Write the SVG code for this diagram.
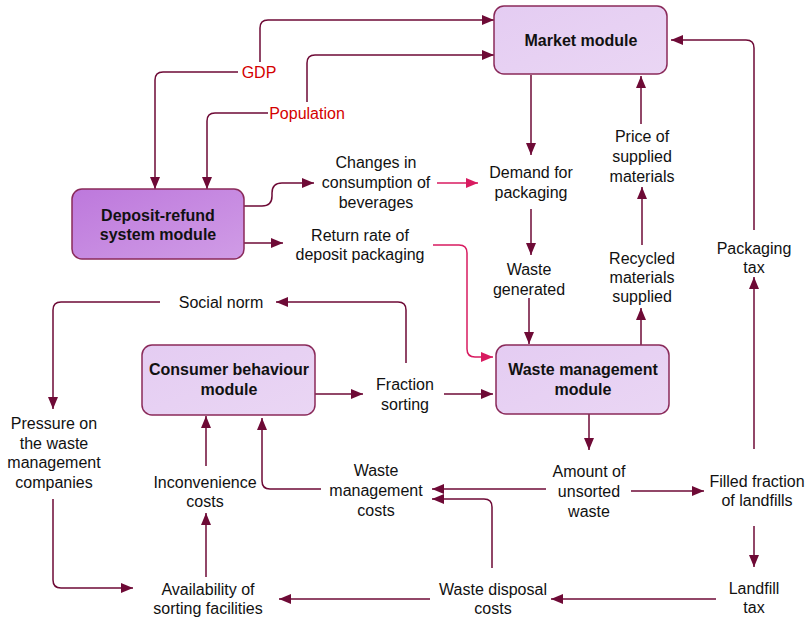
<svg xmlns="http://www.w3.org/2000/svg" width="810" height="618" viewBox="0 0 810 618">
<defs>
<marker id="ah" markerUnits="userSpaceOnUse" markerWidth="13" markerHeight="11" refX="12" refY="5" orient="auto"><path d="M0,0 L12,5 L0,10 z" fill="#6e0a36"/></marker>
<marker id="ahp" markerUnits="userSpaceOnUse" markerWidth="13" markerHeight="11" refX="12" refY="5" orient="auto"><path d="M0,0 L12,5 L0,10 z" fill="#d81b60"/></marker>
<linearGradient id="gl" x1="0" y1="0" x2="1" y2="1"><stop offset="0" stop-color="#e4ccf2"/><stop offset="1" stop-color="#ead6f4"/></linearGradient>
<linearGradient id="gd" x1="0" y1="0" x2="1" y2="1"><stop offset="0" stop-color="#bd78dc"/><stop offset="1" stop-color="#d09ce6"/></linearGradient>
</defs>
<style>
text{font-family:"Liberation Sans",Arial,sans-serif;font-size:16px;fill:#111;text-anchor:middle}
.b{font-weight:bold}
.r{fill:#d40000}
.c{fill:none;stroke:#6e0a36;stroke-width:1.5;marker-end:url(#ah)}
.c2{fill:none;stroke:#6e0a36;stroke-width:1.5}
.p{fill:none;stroke:#d81b60;stroke-width:1.5;marker-end:url(#ahp)}
.box{stroke:#8a2a5a;stroke-width:1.5}
</style>
<rect width="810" height="618" fill="#fff"/>
<g id="connectors">
<path class="c" d="M260,62 V28 Q260,20 268,20 H494"/>
<path class="c" d="M238,72 H163 Q155,72 155,80 V189"/>
<path class="c" d="M307,102 V63 Q307,55 315,55 H494"/>
<path class="c" d="M268,113 H215 Q207,113 207,121 V189"/>
<path class="c" d="M244,206 H262 Q272,206 272,196 V193 Q272,183 282,183 H314"/>
<path class="c" d="M244,243 H283"/>
<path class="p" d="M437,183 H478"/>
<path class="p" d="M433,245 H459 Q467,245 467,253 V349 Q467,357 475,357 H493"/>
<path class="c" d="M531,75 V155"/>
<path class="c" d="M531,209 V255"/>
<path class="c" d="M529,298 V344"/>
<path class="c" d="M641,345 V308"/>
<path class="c" d="M642,245 V187"/>
<path class="c" d="M641,124 V76"/>
<path class="c" d="M754,230 V48 Q754,40 746,40 H671"/>
<path class="c" d="M754,449 V277"/>
<path class="c" d="M754,526 V567"/>
<path class="c" d="M716,599 H551"/>
<path class="c" d="M430,599 H279"/>
<path class="c" d="M492,568 V507 Q492,499 484,499 H432"/>
<path class="c" d="M546,489 H432"/>
<path class="c" d="M631,491 H704"/>
<path class="c" d="M589,414 V450"/>
<path class="c" d="M321,489 H270 Q262,489 262,481 V418"/>
<path class="c" d="M206,466 V416"/>
<path class="c" d="M206,577 V513"/>
<path class="c" d="M53,499 V580 Q53,588 61,588 H133"/>
<path class="c" d="M160,302 H61 Q53,302 53,310 V409"/>
<path class="c" d="M406,363 V310 Q406,302 398,302 H276"/>
<path class="c" d="M315,394 H363"/>
<path class="c" d="M444,394 H493"/>
</g>
<g id="market"><rect class="box" x="494" y="6" width="173" height="68" rx="10" fill="url(#gl)"/><text class="b" x="581" y="46">Market module</text></g>
<g id="deposit"><rect class="box" x="72" y="189" width="172" height="70" rx="10" fill="url(#gd)"/><text class="b" x="158" y="221">Deposit-refund</text><text class="b" x="158" y="240">system module</text></g>
<g id="consumer"><rect class="box" x="142" y="345" width="173" height="70" rx="10" fill="url(#gl)"/><text class="b" x="229" y="375">Consumer behaviour</text><text class="b" x="229" y="395">module</text></g>
<g id="wastemod"><rect class="box" x="496" y="345" width="173" height="69" rx="10" fill="url(#gl)"/><text class="b" x="583" y="375">Waste management</text><text class="b" x="583" y="395">module</text></g>
<g id="gdp"><text class="r" x="259" y="78">GDP</text></g>
<g id="population"><text class="r" x="307" y="119">Population</text></g>
<g id="changes"><text x="376" y="168">Changes in</text><text x="376" y="188">consumption of</text><text x="376" y="208">beverages</text></g>
<g id="returnrate"><text x="360" y="241">Return rate of</text><text x="360" y="260">deposit packaging</text></g>
<g id="demand"><text x="531" y="178">Demand for</text><text x="531" y="198">packaging</text></g>
<g id="wastegen"><text x="529" y="275">Waste</text><text x="529" y="295">generated</text></g>
<g id="price"><text x="642" y="142">Price of</text><text x="642" y="162">supplied</text><text x="642" y="182">materials</text></g>
<g id="recycled"><text x="642" y="264">Recycled</text><text x="642" y="283">materials</text><text x="642" y="302">supplied</text></g>
<g id="pkgtax"><text x="754" y="254">Packaging</text><text x="754" y="273">tax</text></g>
<g id="social"><text x="221" y="308">Social norm</text></g>
<g id="fraction"><text x="405" y="390">Fraction</text><text x="405" y="410">sorting</text></g>
<g id="pressure"><text x="54" y="429">Pressure on</text><text x="54" y="449">the waste</text><text x="54" y="468">management</text><text x="54" y="488">companies</text></g>
<g id="inconv"><text x="205" y="488">Inconvenience</text><text x="205" y="507">costs</text></g>
<g id="wmcosts"><text x="376" y="476">Waste</text><text x="376" y="496">management</text><text x="376" y="516">costs</text></g>
<g id="unsorted"><text x="589" y="477">Amount of</text><text x="589" y="497">unsorted</text><text x="589" y="517">waste</text></g>
<g id="filled"><text x="757" y="487">Filled fraction</text><text x="757" y="506">of landfills</text></g>
<g id="avail"><text x="208" y="595">Availability of</text><text x="208" y="614">sorting facilities</text></g>
<g id="disposal"><text x="493" y="595">Waste disposal</text><text x="493" y="614">costs</text></g>
<g id="landfilltax"><text x="754" y="594">Landfill</text><text x="754" y="613">tax</text></g>
</svg>
